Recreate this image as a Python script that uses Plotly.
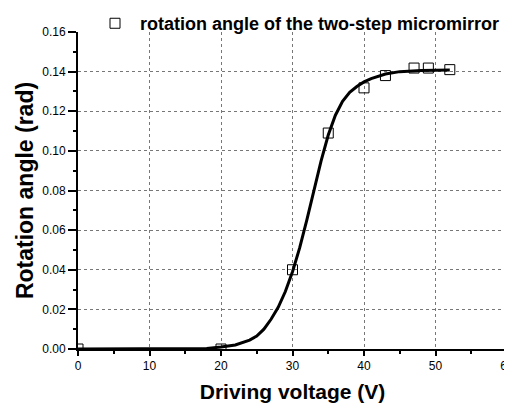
import plotly.graph_objects as go

# measured data points
volt = [0, 20, 30, 35, 40, 43, 47, 49, 52]
angle = [0.0, 0.0, 0.040, 0.109, 0.1318, 0.138, 0.1418, 0.1418, 0.141]

# fitted curve
fit_x = [0, 10, 15, 18, 20, 22, 24, 25, 26, 27, 28, 29, 30, 31, 32, 33, 34, 35, 36, 37, 38, 39, 40, 41, 42, 43, 45, 48, 52]
fit_y = [0.0, 0.0, 0.0001, 0.0003, 0.001, 0.002, 0.0045, 0.0065, 0.010, 0.015, 0.021, 0.029, 0.039, 0.051, 0.065, 0.080, 0.095, 0.108, 0.118, 0.125, 0.1295, 0.1325, 0.1348, 0.1365, 0.1378, 0.1388, 0.1400, 0.1406, 0.1408]

x_ticks = [0, 10, 20, 30, 40, 50, 60]
y_ticks = [0.00, 0.02, 0.04, 0.06, 0.08, 0.10, 0.12, 0.14, 0.16]

font = "Liberation Sans, Arial, sans-serif"

fig = go.Figure()
fig.add_trace(go.Scatter(x=fit_x, y=fit_y, mode="lines",
                         line=dict(color="black", width=3), showlegend=False))
fig.add_trace(go.Scatter(x=volt, y=angle, mode="markers",
                         name="rotation angle of the two-step micromirror",
                         marker=dict(symbol="square-open", size=10, color="black",
                                     line=dict(width=1, color="black"))))

fig.update_layout(
    width=512, height=405,
    margin=dict(l=70, r=13, t=24, b=64, autoexpand=False),
    paper_bgcolor="white", plot_bgcolor="white",
    font=dict(family=font, color="black"),
    showlegend=True,
    legend=dict(x=0.028, y=1.085, xref="paper", yref="paper", xanchor="left", yanchor="top",
                orientation="h", itemwidth=40,
                font=dict(size=18, family=font, weight="bold"), bgcolor="rgba(0,0,0,0)"),
)
fig.update_xaxes(
    range=[0, 60], tickvals=x_ticks, ticktext=[str(v) for v in x_ticks],
    showline=True, linecolor="black", linewidth=2, mirror=False,
    ticks="outside", ticklen=5, tickwidth=1.5, tickcolor="black",
    minor=dict(dtick=5, ticks="outside", ticklen=3, tickcolor="black", showgrid=False),
    showgrid=True, gridcolor="#777", griddash="dot", gridwidth=1,
    zeroline=False, tickfont=dict(size=12),
    title=dict(text="Driving voltage (V)", font=dict(size=21, weight="bold"), standoff=12),
)
fig.update_yaxes(
    range=[0, 0.16], tickvals=y_ticks, ticktext=["%.2f" % v for v in y_ticks],
    showline=True, linecolor="black", linewidth=2, mirror=False,
    ticks="outside", ticklen=8, tickwidth=1.5, tickcolor="black",
    minor=dict(dtick=0.01, ticks="outside", ticklen=3, tickcolor="black", showgrid=False),
    showgrid=True, gridcolor="#777", griddash="dot", gridwidth=1,
    zeroline=False, tickfont=dict(size=12),
    title=dict(text="Rotation angle (rad)", font=dict(size=23, weight="bold"), standoff=2),
)

fig.write_html("out.html")
